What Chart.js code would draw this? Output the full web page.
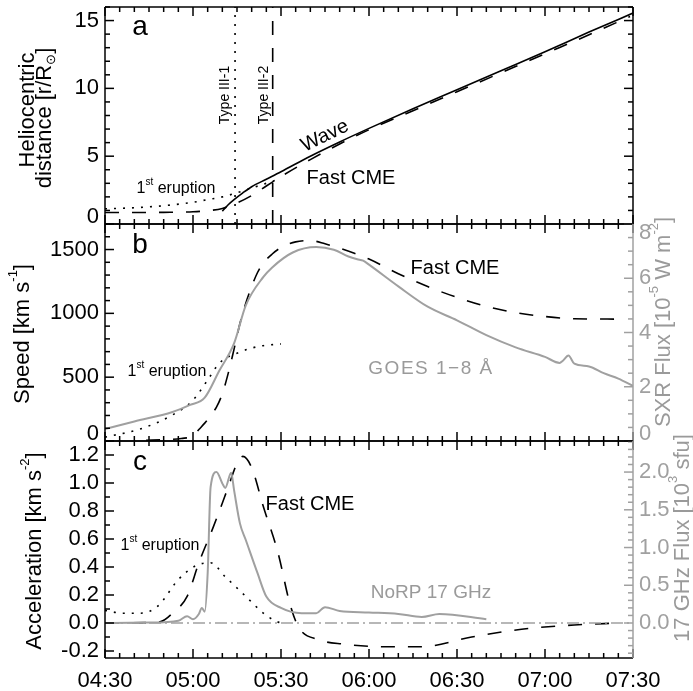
<!DOCTYPE html>
<html>
<head>
<meta charset="utf-8">
<script src="https://cdn.jsdelivr.net/npm/chart.js@4.4.0/dist/chart.umd.min.js"></script>
<style>
  html, body { margin: 0; padding: 0; background: #fff; }
  #wrap { position: relative; width: 693px; height: 691px; }
  #wrap canvas { position: absolute; left: 0; top: 0; }
</style>
</head>
<body>
<div id="wrap">
  <canvas id="panelA" width="693" height="691"></canvas>
  <canvas id="panelB" width="693" height="691"></canvas>
  <canvas id="panelC" width="693" height="691"></canvas>
</div>
<script>
// axis tick labels
const timeLabels = ['04:30', '05:00', '05:30', '06:00', '06:30', '07:00', '07:30'];
const distTicks = [0, 5, 10, 15];
const speedTicks = [0, 500, 1000, 1500];
const sxrTicks = [0, 2, 4, 6, 8];
const accTicks = [-0.2, 0, 0.2, 0.4, 0.6, 0.8, 1.0, 1.2];
const radioTicks = [0, 0.5, 1.0, 1.5, 2.0];

// panel a: heliocentric distance [r/Rsun]
const waveTime = ['05:10', '05:12', '05:14', '05:17', '05:20', '05:25', '05:30', '05:40', '05:50', '06:00', '06:15', '06:30', '06:45', '07:00', '07:15', '07:30'];
const waveDist = [0.95, 1.42, 1.8, 2.3, 2.75, 3.3, 3.85, 5.0, 6.05, 7.05, 8.5, 9.9, 11.3, 12.7, 14.15, 15.55];
const cmeDistTime = ['04:30', '04:40', '04:50', '05:00', '05:05', '05:10', '05:15', '05:20', '05:25', '05:30', '05:40', '05:50', '06:00', '06:15', '06:30', '06:45', '07:00', '07:15', '07:29'];
const cmeDist = [0.85, 0.85, 0.86, 0.9, 0.98, 1.15, 1.55, 2.1, 2.8, 3.5, 4.75, 5.9, 6.95, 8.35, 9.75, 11.15, 12.55, 13.95, 15.3];
const erupDistTime = ['04:30', '04:40', '04:50', '05:00', '05:05', '05:10', '05:15', '05:20', '05:25', '05:30'];
const erupDist = [1.12, 1.2, 1.35, 1.6, 1.8, 2.0, 2.3, 2.65, 3.0, 3.35];
const typeIIITime = ['05:14:20', '05:27:10'];

// panel b: speed [km/s] and GOES 1-8 A flux [1e-5 W/m2]
const cmeSpeedTime = ['04:44', '04:50', '04:56', '05:00', '05:02', '05:04', '05:06', '05:08', '05:10', '05:12', '05:14', '05:16', '05:18', '05:20', '05:22', '05:24', '05:27', '05:30', '05:35', '05:40', '05:45', '05:50', '05:55', '06:00', '06:10', '06:20', '06:30', '06:40', '06:50', '07:00', '07:10', '07:25'];
const cmeSpeed = [5, 10, 20, 40, 90, 140, 200, 265, 370, 530, 720, 920, 1080, 1210, 1320, 1395, 1465, 1515, 1560, 1570, 1545, 1510, 1470, 1425, 1310, 1210, 1125, 1055, 1005, 975, 958, 955];
const erupSpeedTime = ['04:30', '04:42', '04:53', '05:00', '05:05', '05:09', '05:16', '05:23', '05:30'];
const erupSpeed = [30, 94, 204, 320, 478, 610, 697, 744, 760];
const goesTime = ['04:30', '04:40', '04:53', '04:59', '05:04', '05:09', '05:14', '05:18', '05:24', '05:27', '05:34', '05:42', '05:48', '05:53', '05:56', '05:58', '06:00', '06:10', '06:20', '06:30', '06:40', '06:50', '07:00', '07:05', '07:06', '07:08', '07:10', '07:15', '07:20', '07:25', '07:30'];
const goesFlux = [0.44, 0.72, 1.07, 1.33, 1.6, 2.6, 3.6, 5.0, 6.05, 6.4, 6.95, 7.15, 7.05, 6.8, 6.7, 6.65, 6.5, 5.7, 4.95, 4.45, 3.9, 3.45, 3.1, 2.88, 2.95, 3.15, 2.85, 2.75, 2.5, 2.3, 2.03];

// panel c: acceleration [km/s2] and NoRP 17 GHz flux [1e3 sfu]
const cmeAccTime = ['04:30', '04:45', '04:49', '04:53', '04:58', '05:02', '05:07', '05:12', '05:15', '05:17', '05:20', '05:24', '05:29', '05:33', '05:36', '05:43', '05:51', '06:07', '06:18', '06:35', '06:52', '07:10', '07:25'];
const cmeAcc = [0, 0.003, 0.01, 0.07, 0.19, 0.43, 0.69, 0.97, 1.14, 1.19, 1.11, 0.83, 0.5, 0.14, -0.03, -0.12, -0.15, -0.17, -0.17, -0.1, -0.045, -0.014, 0];
const erupAccTime = ['04:30', '04:36', '04:42', '04:48', '04:55', '05:01', '05:06', '05:11', '05:18', '05:24', '05:28', '05:30'];
const erupAcc = [0.09, 0.07, 0.07, 0.12, 0.31, 0.41, 0.43, 0.33, 0.19, 0.07, 0.015, 0];
const norpTime = ['04:30', '04:45', '04:55', '04:58', '05:00', '05:02', '05:03', '05:04', '05:05', '05:06', '05:08', '05:10', '05:11', '05:13', '05:14', '05:16', '05:18', '05:22', '05:25', '05:30', '05:37', '05:42', '05:45', '05:50', '06:00', '06:10', '06:18', '06:24', '06:40'];
const norpFlux = [0, 0.005, 0.03, 0.09, 0.05, 0.12, 0.2, 0.15, 0.66, 1.8, 2.0, 1.85, 1.79, 1.99, 1.76, 1.32, 1.1, 0.66, 0.35, 0.2, 0.13, 0.13, 0.21, 0.16, 0.14, 0.12, 0.08, 0.12, 0.05];

const W = 693, H = 691;
const PLOT_LEFT = 105, PLOT_RIGHT = 633;
const FONT = '"Liberation Sans", Arial, Helvetica, sans-serif';
const GRAY = '#a0a0a0';
const TEXT_GRAY = '#9a9a9a';

// minutes after 04:30
function toMin(t) {
  const p = t.split(':').map(Number);
  return p[0] * 60 + p[1] + (p[2] || 0) / 60 - 270;
}
function series(times, vals) {
  return times.map((t, i) => ({ x: toMin(t), y: vals[i] }));
}

const solid = { borderColor: '#000', borderWidth: 1.6 };
const dashed = { borderColor: '#000', borderWidth: 1.6, borderDash: [14, 13] };
const dotted = { borderColor: '#000', borderWidth: 1.6, borderDash: [2, 7] };
const grayLine = { borderColor: GRAY, borderWidth: 2, tension: 0 };

// text with super/subscripts, centred at x,y
function drawRich(ctx, item) {
  const size = item.size || 20;
  const segs = item.parts.map(p => Array.isArray(p) ? { t: p[0], k: p[1] } : { t: p, k: '' });
  const fontOf = k => (k ? Math.round(size * 0.6) : size) + 'px ' + FONT;
  ctx.save();
  if (item.spacing) ctx.letterSpacing = item.spacing + 'px';
  let w = 0;
  segs.forEach(s => { ctx.font = fontOf(s.k); s.w = ctx.measureText(s.t).width; w += s.w; });
  ctx.translate(item.x, item.y);
  if (item.rot) ctx.rotate(item.rot * Math.PI / 180);
  ctx.fillStyle = item.color || '#000';
  ctx.textBaseline = 'middle';
  ctx.textAlign = 'left';
  let cx = -w / 2;
  segs.forEach(s => {
    ctx.font = fontOf(s.k);
    const dy = s.k === 'sup' ? -size * 0.42 : s.k === 'sub' ? size * 0.3 : 0;
    ctx.fillText(s.t, cx, dy);
    cx += s.w;
  });
  ctx.restore();
}

// frame, inward ticks, y tick labels and text for one panel
function panelPlugin(spec) {
  return {
    id: 'panel_' + spec.name,
    afterDatasetsDraw(chart) {
      const ctx = chart.ctx, ca = chart.chartArea, xs = chart.scales.x;
      ctx.save();
      ctx.lineWidth = 1.5;
      ctx.lineCap = 'butt';

      const tickLine = (x1, y1, x2, y2, color) => {
        ctx.strokeStyle = color;
        ctx.beginPath(); ctx.moveTo(x1, y1); ctx.lineTo(x2, y2); ctx.stroke();
      };

      // x ticks, top and bottom
      for (let v = 0; v <= 180; v += 5) {
        const px = xs.getPixelForValue(v);
        const len = v % 30 === 0 ? 9 : 5;
        tickLine(px, ca.bottom, px, ca.bottom - len, '#000');
        tickLine(px, ca.top, px, ca.top + len, '#000');
      }

      // y ticks, labels
      const yAxis = (ax, side) => {
        const sc = chart.scales[ax.id];
        const dir = side === 'left' ? 1 : -1;
        const x0 = side === 'left' ? ca.left : ca.right;
        const n0 = Math.ceil(sc.min / ax.minor - 1e-6), n1 = Math.floor(sc.max / ax.minor + 1e-6);
        for (let i = n0; i <= n1; i++) {
          const v = i * ax.minor;
          const r = v / ax.major;
          const major = Math.abs(r - Math.round(r)) < 1e-6;
          const py = sc.getPixelForValue(v);
          tickLine(x0, py, x0 + dir * (major ? 9 : 5), py, ax.color);
        }
        if (ax.fmt) {
          ctx.fillStyle = ax.color;
          ctx.font = '22px ' + FONT;
          ctx.textBaseline = 'middle';
          ctx.textAlign = side === 'left' ? 'right' : 'left';
          sc.ticks.forEach(t => {
            let py = sc.getPixelForValue(t.value);
            py = Math.max(ca.top + 9, Math.min(ca.bottom - 7, py));
            ctx.fillText(ax.fmt(t.value), side === 'left' ? ca.left - 6 : ca.right + 6, py);
          });
        }
      };
      yAxis(spec.left, 'left');
      yAxis(spec.right, 'right');

      // frame
      tickLine(ca.left, ca.top, ca.right, ca.top, '#000');
      tickLine(ca.left, ca.bottom, ca.right, ca.bottom, '#000');
      tickLine(ca.left, ca.top, ca.left, ca.bottom, '#000');
      tickLine(ca.right, ca.top, ca.right, ca.bottom, spec.right.color);
      ctx.restore();

      spec.texts.forEach(t => drawRich(ctx, t));
    }
  };
}

function yScale(position, min, max, tickVals, width) {
  return {
    type: 'linear', position: position, min: min, max: max,
    grid: { display: false, drawTicks: false },
    border: { display: false },
    ticks: { display: false },
    afterBuildTicks: s => { s.ticks = tickVals.map(v => ({ value: v })); },
    afterFit: s => { s.width = width; }
  };
}

function panelOptions(top, bottom, showX, scales) {
  return {
    responsive: false,
    animation: false,
    devicePixelRatio: 1,
    layout: { padding: { top: top, bottom: showX ? 0 : H - bottom, left: 0, right: scales.y2 ? 0 : W - PLOT_RIGHT } },
    plugins: { legend: { display: false }, tooltip: { enabled: false } },
    elements: { point: { radius: 0 }, line: { cubicInterpolationMode: 'monotone' } },
    scales: Object.assign({
      x: {
        type: 'linear', min: 0, max: 180,
        grid: { display: false, drawTicks: false },
        border: { display: false },
        ticks: {
          display: showX, stepSize: 30, autoSkip: false, maxRotation: 0, padding: 10,
          color: '#000', font: { family: FONT, size: 22 },
          callback: v => timeLabels[Math.round(v / 30)]
        },
        afterFit: s => { s.height = showX ? H - bottom : 0; }
      }
    }, scales)
  };
}

// panel a
new Chart(document.getElementById('panelA'), {
  type: 'line',
  data: {
    datasets: [
      Object.assign({ data: series(erupDistTime, erupDist) }, dotted),
      Object.assign({ data: series(cmeDistTime, cmeDist) }, dashed),
      Object.assign({ data: series(waveTime, waveDist) }, solid),
      Object.assign({ data: [{ x: toMin(typeIIITime[0]), y: 0 }, { x: toMin(typeIIITime[0]), y: 16 }], cubicInterpolationMode: 'default', tension: 0 }, dotted),
      Object.assign({ data: [{ x: toMin(typeIIITime[1]), y: 0 }, { x: toMin(typeIIITime[1]), y: 16 }], cubicInterpolationMode: 'default', tension: 0 }, dashed)
    ]
  },
  options: panelOptions(7, 224, false, { y: yScale('left', 0, 16, distTicks, PLOT_LEFT) }),
  plugins: [panelPlugin({
    name: 'a',
    left: { id: 'y', major: 5, minor: 1, color: '#000', fmt: v => String(v) },
    right: { id: 'y', major: 5, minor: 1, color: '#000', fmt: null },
    texts: [
      { parts: ['a'], x: 140, y: 27, size: 28 },
      { parts: ['Heliocentric'], x: 28, y: 110, size: 22, rot: -90 },
      { parts: ['distance [r/R', ['\u2299', 'sub'], ']'], x: 45, y: 118, size: 22, rot: -90 },
      { parts: ['Type III-1'], x: 225, y: 95, size: 14, rot: -90 },
      { parts: ['Type III-2'], x: 264, y: 95, size: 14, rot: -90 },
      { parts: ['Wave'], x: 325, y: 136, size: 20, rot: -26 },
      { parts: ['Fast CME'], x: 351, y: 178, size: 20 },
      { parts: ['1', ['st', 'sup'], ' eruption'], x: 176, y: 189, size: 16 }
    ]
  })]
});

// panel b
new Chart(document.getElementById('panelB'), {
  type: 'line',
  data: {
    datasets: [
      Object.assign({ data: series(goesTime, goesFlux), yAxisID: 'y2' }, grayLine),
      Object.assign({ data: series(erupSpeedTime, erupSpeed), yAxisID: 'y' }, dotted),
      Object.assign({ data: series(cmeSpeedTime, cmeSpeed), yAxisID: 'y' }, dashed)
    ]
  },
  options: panelOptions(224, 441, false, {
    y: yScale('left', 0, 1700, speedTicks, PLOT_LEFT),
    y2: yScale('right', 0, 8, sxrTicks, W - PLOT_RIGHT)
  }),
  plugins: [panelPlugin({
    name: 'b',
    left: { id: 'y', major: 500, minor: 100, color: '#000', fmt: v => String(v) },
    right: { id: 'y2', major: 2, minor: 0.5, color: GRAY, fmt: v => String(v) },
    texts: [
      { parts: ['b'], x: 140, y: 245, size: 28 },
      { parts: ['Speed [km s', ['-1', 'sup'], ']'], x: 23, y: 334, size: 22, rot: -90 },
      { parts: ['SXR Flux [10', ['-5', 'sup'], ' W m', ['-2', 'sup'], ']'], x: 664, y: 322, size: 22, rot: -90, color: TEXT_GRAY },
      { parts: ['Fast CME'], x: 455, y: 268, size: 20 },
      { parts: ['GOES 1\u22128 \u00c5'], x: 431, y: 369, size: 19, spacing: 1.5, color: TEXT_GRAY },
      { parts: ['1', ['st', 'sup'], ' eruption'], x: 167, y: 372, size: 16 }
    ]
  })]
});

// panel c
new Chart(document.getElementById('panelC'), {
  type: 'line',
  data: {
    datasets: [
      Object.assign({ data: [{ x: 0, y: 0 }, { x: 180, y: 0 }], yAxisID: 'y', borderDash: [12, 4, 2, 4] }, grayLine, { borderWidth: 1.5 }),
      Object.assign({ data: series(norpTime, norpFlux), yAxisID: 'y2' }, grayLine),
      Object.assign({ data: series(erupAccTime, erupAcc), yAxisID: 'y' }, dotted),
      Object.assign({ data: series(cmeAccTime, cmeAcc), yAxisID: 'y' }, dashed)
    ]
  },
  options: panelOptions(441, 658, true, {
    y: yScale('left', -0.25, 1.3, accTicks, PLOT_LEFT),
    y2: yScale('right', -0.25 * 1.855, 1.3 * 1.855, radioTicks, W - PLOT_RIGHT)
  }),
  plugins: [panelPlugin({
    name: 'c',
    left: { id: 'y', major: 0.2, minor: 0.1, color: '#000', fmt: v => v.toFixed(1) },
    right: { id: 'y2', major: 0.5, minor: 0.1, color: GRAY, fmt: v => v.toFixed(1) },
    texts: [
      { parts: ['c'], x: 140, y: 462, size: 28 },
      { parts: ['Acceleration [km s', ['-2', 'sup'], ']'], x: 35, y: 551, size: 22, rot: -90 },
      { parts: ['17 GHz Flux [10', ['3', 'sup'], ' sfu]'], x: 683, y: 538, size: 22, rot: -90, color: TEXT_GRAY },
      { parts: ['Fast CME'], x: 310, y: 504, size: 20 },
      { parts: ['1', ['st', 'sup'], ' eruption'], x: 160, y: 546, size: 16 },
      { parts: ['NoRP 17 GHz'], x: 431, y: 593, size: 19, color: TEXT_GRAY }
    ]
  })]
});
</script>
</body>
</html>
